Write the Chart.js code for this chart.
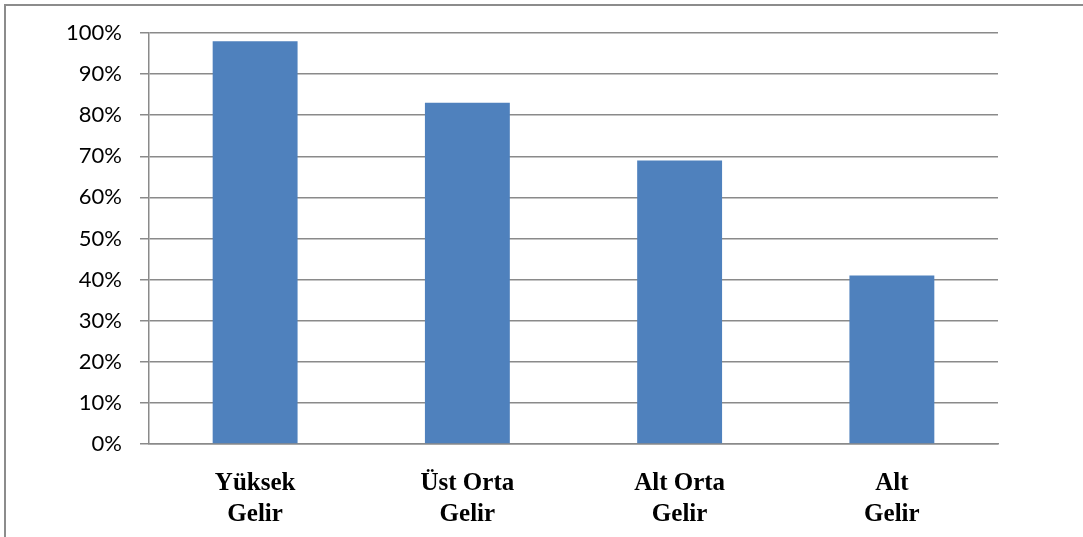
<!DOCTYPE html>
<html>
<head>
<meta charset="utf-8">
<script src="https://cdn.jsdelivr.net/npm/chart.js@4"></script>
<style>
  html, body { margin: 0; padding: 0; background: #fff; }
  #wrap { width: 1083px; height: 537px; }
</style>
</head>
<body>
<div id="wrap"><canvas id="c" width="1083" height="537"></canvas></div>
<script>
// Income groups (two-line labels) and their shares in percent
const categories = [["Yüksek", "Gelir"], ["Üst Orta", "Gelir"], ["Alt Orta", "Gelir"], ["Alt", "Gelir"]];
const shares = [98, 83, 69, 41];
const yTicks = [0, 10, 20, 30, 40, 50, 60, 70, 80, 90, 100];

const gridGray = '#8a8a8a';

// White page with the outer frame line around the chart
const framePlugin = {
  id: 'frame',
  beforeDraw(chart) {
    const ctx = chart.ctx;
    ctx.save();
    ctx.fillStyle = '#ffffff';
    ctx.fillRect(0, 0, chart.width, chart.height);
    ctx.strokeStyle = '#8c8c8c';
    ctx.lineWidth = 2;
    ctx.strokeRect(5, 5, chart.width + 20, chart.height + 20);
    ctx.restore();
  }
};

new Chart(document.getElementById('c'), {
  type: 'bar',
  data: {
    labels: categories,
    datasets: [{
      data: shares,
      backgroundColor: '#4f81bd',
      borderWidth: 0,
      barPercentage: 0.4,
      categoryPercentage: 1.0
    }]
  },
  options: {
    responsive: false,
    animation: false,
    layout: { autoPadding: false, padding: { left: 0, top: 33, right: 85, bottom: 0 } },
    plugins: { legend: { display: false }, tooltip: { enabled: false } },
    scales: {
      x: {
        afterFit(scale) { scale.height = 93; },
        grid: { display: false, drawTicks: false },
        border: { display: true, color: gridGray, width: 1.5 },
        ticks: {
          maxRotation: 0,
          autoSkip: false,
          padding: 24,
          color: '#000',
          font: { family: '"Liberation Serif", "Times New Roman", serif', size: 25, weight: 'bold', lineHeight: 1.24 }
        }
      },
      y: {
        min: 0,
        max: 100,
        afterFit(scale) { scale.width = 149; },
        afterBuildTicks(scale) { scale.ticks = yTicks.map(v => ({ value: v })); },
        grid: { color: gridGray, lineWidth: 1.5, drawTicks: true, tickLength: 9, tickColor: gridGray },
        border: { display: true, color: gridGray, width: 1.5 },
        ticks: {
          padding: 18,
          color: '#000',
          font: { family: 'Lato, "Open Sans", sans-serif', size: 22 },
          callback: v => v + '%'
        }
      }
    }
  },
  plugins: [framePlugin]
});
</script>
</body>
</html>
